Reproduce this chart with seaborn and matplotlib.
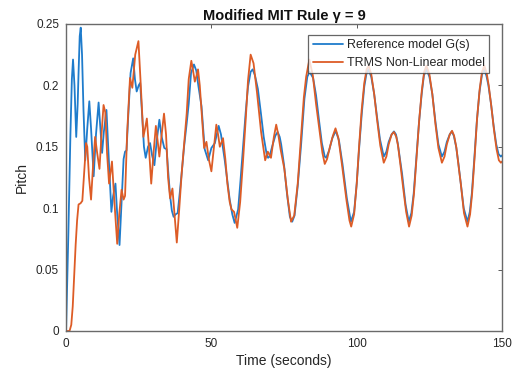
import matplotlib
matplotlib.use("Agg")
import matplotlib.pyplot as plt
import seaborn as sns
import pandas as pd

# Reference model G(s)
t_ref = [0, 0.8, 1.5, 2.0, 2.4, 2.9, 3.5, 4.0, 4.3, 4.7, 5.05, 5.5, 6.0, 6.6, 7.3, 8.0, 8.6, 9.5,
         10.3, 11.2, 11.8, 12.4, 13.0, 13.9, 14.5, 15.6, 16.2, 17.0, 17.6, 18.4, 19.0, 19.8, 20.3,
         20.8, 21.5, 22.2, 23.1, 23.7, 24.3, 25.0, 25.5, 26.2, 26.8, 27.4, 28.2, 28.9, 29.6, 30.4,
         31.2, 32.1, 32.9, 33.8, 34.6, 35.2, 35.8, 36.4, 37.0, 37.7, 38.4, 39.1, 39.8, 40.6, 41.5,
         42.2, 43.0, 44.0, 44.8, 45.5, 46.6, 47.7, 48.9, 50.0, 51.2, 52.5, 53.3, 54.6, 55.5, 56.3,
         57.2, 58.0, 59.2, 60.0, 60.9, 61.8, 62.6, 63.5, 64.2, 65, 66, 67, 68, 69, 69.5, 70, 71, 72,
         72.8, 73.5, 74, 75, 76, 77, 77.8, 78.6, 79.7, 80.9, 82, 83, 83.8, 85, 86, 87, 88, 89, 89.5,
         90.5, 91.6, 92.8, 93.9, 95.1, 96.6, 98, 99.1, 100, 100.8, 101.7, 102.6, 103.3, 104, 105, 106,
         107, 108, 109.3, 110.2, 111, 112, 112.8, 113.5, 114.1, 115, 115.6, 116.8, 117.9, 118.8,
         119.6, 120.5, 121.4, 122.3, 123.1, 124, 125, 126, 127.1, 128.1, 129.3, 130.2, 131, 132,
         132.7, 133.4, 134.2, 135, 135.6, 136.8, 138.1, 138.9, 139.6, 140.5, 141.3, 142.2, 143.1,
         143.8, 144.6, 145.3, 146.2, 147.1, 148, 148.8, 149.6, 150]
pitch_ref = [0.0, 0.08, 0.16, 0.205, 0.221, 0.200, 0.158, 0.185, 0.210, 0.240, 0.247, 0.225, 0.180,
             0.139, 0.165, 0.187, 0.165, 0.126, 0.160, 0.186, 0.165, 0.145, 0.162, 0.180, 0.150,
             0.097, 0.110, 0.120, 0.095, 0.070, 0.100, 0.140, 0.146, 0.147, 0.180, 0.210, 0.222,
             0.205, 0.195, 0.200, 0.202, 0.175, 0.150, 0.141, 0.150, 0.153, 0.143, 0.135, 0.155,
             0.172, 0.158, 0.149, 0.148, 0.128, 0.110, 0.098, 0.093, 0.095, 0.096, 0.112, 0.129,
             0.150, 0.169, 0.185, 0.210, 0.217, 0.212, 0.200, 0.183, 0.148, 0.139, 0.149, 0.153,
             0.167, 0.160, 0.139, 0.122, 0.107, 0.095, 0.088, 0.099, 0.122, 0.150, 0.178, 0.199,
             0.211, 0.213, 0.208, 0.197, 0.178, 0.158, 0.144, 0.141, 0.142, 0.151, 0.159, 0.162,
             0.158, 0.152, 0.135, 0.112, 0.093, 0.089, 0.094, 0.118, 0.153, 0.189, 0.207, 0.211,
             0.206, 0.192, 0.172, 0.153, 0.142, 0.141, 0.147, 0.157, 0.163, 0.155, 0.136, 0.108,
             0.089, 0.097, 0.120, 0.148, 0.176, 0.199, 0.209, 0.213, 0.207, 0.193, 0.174, 0.156,
             0.142, 0.146, 0.154, 0.160, 0.1625, 0.160, 0.153, 0.138, 0.128, 0.103, 0.089, 0.096,
             0.112, 0.140, 0.169, 0.192, 0.208, 0.213, 0.207, 0.193, 0.170, 0.152, 0.142, 0.146,
             0.154, 0.160, 0.1625, 0.159, 0.150, 0.136, 0.124, 0.100, 0.089, 0.097, 0.112, 0.142,
             0.170, 0.194, 0.209, 0.213, 0.208, 0.200, 0.185, 0.167, 0.152, 0.144, 0.142, 0.143]

# TRMS Non-Linear model
t_trms = [0, 1.2, 1.8, 2.3, 2.8, 3.3, 3.8, 4.3, 5.0, 5.6, 6.2, 6.9, 7.3, 7.9, 8.6, 9.3, 10.0, 10.7,
          11.5, 12.2, 12.9, 13.5, 14.1, 14.8, 15.8, 16.5, 17.6, 18.3, 19.1, 19.8, 20.3, 21.0, 22.0,
          22.8, 23.8, 24.9, 25.6, 26.6, 27.2, 27.8, 28.5, 29.3, 30.1, 30.9, 31.5, 32.1, 32.9, 33.7,
          34.4, 35.1, 35.8, 36.6, 37.3, 38.1, 38.9, 39.8, 40.6, 41.5, 42.2, 43.1, 43.7, 44.3, 44.9,
          45.4, 46.0, 46.6, 47.5, 48.3, 49.1, 50.0, 50.9, 51.7, 52.3, 52.9, 54.0, 54.8, 55.5, 56.3,
          56.9, 57.8, 58.9, 59.9, 60.9, 61.8, 62.6, 63.5, 64.5, 65.7, 67.1, 68.5, 69.4, 70.5, 71.5,
          72.3, 73.0, 73.8, 75.1, 76.3, 77.4, 78.5, 79.7, 80.9, 81.8, 82.6, 83.7, 84.9, 86.0, 87.1,
          88.2, 89.0, 89.8, 90.8, 91.8, 92.7, 93.7, 95.0, 96.5, 97.5, 98.1, 99.1, 100.0, 100.8, 101.7,
          102.6, 103.4, 104.1, 105.0, 106.0, 107.0, 108.1, 109.3, 110.2, 111.0, 112.0, 112.8, 113.6,
          114.2, 115.1, 116.0, 117.0, 118.0, 118.9, 119.7, 120.6, 121.5, 122.4, 123.2, 124.0, 125.0,
          126.0, 127.1, 128.1, 129.3, 130.2, 131.0, 132.0, 132.8, 133.5, 134.3, 135.1, 135.8, 136.9,
          138.1, 139.0, 139.7, 140.6, 141.4, 142.3, 143.1, 143.9, 144.7, 145.4, 146.3, 147.2, 148.1,
          148.9, 149.6, 150.0]
pitch_trms = [0.0, 0.0, 0.005, 0.02, 0.045, 0.07, 0.09, 0.103, 0.104, 0.106, 0.128, 0.153, 0.150,
              0.125, 0.107, 0.135, 0.158, 0.145, 0.132, 0.160, 0.184, 0.178, 0.145, 0.120, 0.138,
              0.110, 0.071, 0.095, 0.115, 0.107, 0.110, 0.160, 0.206, 0.198, 0.225, 0.236, 0.205,
              0.158, 0.165, 0.173, 0.150, 0.120, 0.145, 0.167, 0.155, 0.142, 0.160, 0.177, 0.160,
              0.125, 0.108, 0.116, 0.095, 0.072, 0.098, 0.129, 0.152, 0.177, 0.205, 0.220, 0.212,
              0.203, 0.208, 0.213, 0.200, 0.180, 0.149, 0.154, 0.140, 0.130, 0.150, 0.168, 0.160,
              0.150, 0.157, 0.140, 0.120, 0.105, 0.099, 0.097, 0.084, 0.105, 0.139, 0.172, 0.204,
              0.225, 0.218, 0.194, 0.162, 0.139, 0.146, 0.141, 0.158, 0.168, 0.160, 0.148, 0.132,
              0.107, 0.089, 0.094, 0.120, 0.160, 0.190, 0.207, 0.221, 0.208, 0.185, 0.165, 0.145,
              0.136, 0.140, 0.150, 0.159, 0.165, 0.157, 0.134, 0.106, 0.090, 0.085, 0.095, 0.120,
              0.150, 0.180, 0.202, 0.213, 0.216, 0.209, 0.193, 0.172, 0.151, 0.137, 0.142, 0.152,
              0.160, 0.162, 0.158, 0.151, 0.134, 0.116, 0.097, 0.085, 0.094, 0.112, 0.142, 0.172,
              0.196, 0.211, 0.216, 0.209, 0.193, 0.168, 0.149, 0.137, 0.142, 0.152, 0.160, 0.163,
              0.159, 0.149, 0.133, 0.120, 0.096, 0.085, 0.095, 0.112, 0.143, 0.173, 0.197, 0.211,
              0.216, 0.210, 0.200, 0.183, 0.164, 0.148, 0.139, 0.137, 0.138]

series_names = ["Reference model G(s)", "TRMS Non-Linear model"]
x_ticks = [0, 50, 100, 150]
y_ticks = [0, 0.05, 0.1, 0.15, 0.2, 0.25]
y_tick_labels = ["0", "0.05", "0.1", "0.15", "0.2", "0.25"]

df = pd.concat([
    pd.DataFrame({"t": t_ref, "pitch": pitch_ref, "series": series_names[0], "order": range(len(t_ref))}),
    pd.DataFrame({"t": t_trms, "pitch": pitch_trms, "series": series_names[1], "order": range(len(t_trms))}),
])

sns.set_theme(style="white")
plt.rcParams["font.family"] = ["Liberation Sans", "DejaVu Sans"]

fig = plt.figure(figsize=(5.16, 3.74), dpi=100)
ax = fig.add_axes([0.128, 0.115, 0.845, 0.821])

palette = {series_names[0]: "#1f7ccc", series_names[1]: "#dd5c26"}
sns.lineplot(data=df, x="t", y="pitch", hue="series", palette=palette, sort=False,
             estimator=None, linewidth=1.3, ax=ax)

ax.set_xlim(0, 150)
ax.set_ylim(0, 0.25)
ax.set_xticks(x_ticks)
ax.set_yticks(y_ticks)
ax.set_yticklabels(y_tick_labels)
ax.tick_params(direction="in", length=3, width=0.6, colors="#404040", labelsize=8.5,
               top=True, right=True, labelcolor="#262626", pad=5)
for s in ax.spines.values():
    s.set_color("#6a6a6a")
    s.set_linewidth(1.0)

ax.set_xlabel("Time (seconds)", fontsize=10, color="#262626", labelpad=3)
ax.set_ylabel("Pitch", fontsize=10, color="#262626", labelpad=5)
ax.set_title("Modified MIT Rule γ = 9", fontsize=10.5, fontweight="bold", color="#111111", pad=3)

leg = ax.legend(loc="upper right", fontsize=9, frameon=True, fancybox=False,
                borderpad=0.35, labelspacing=0.45, handlelength=2.4, handletextpad=0.3,
                bbox_to_anchor=(0.970, 0.964), borderaxespad=0)
leg.get_frame().set_edgecolor("#404040")
leg.get_frame().set_linewidth(0.9)
for lh in leg.get_lines():
    lh.set_linewidth(1.3)

fig.savefig("out.png", dpi=100)
